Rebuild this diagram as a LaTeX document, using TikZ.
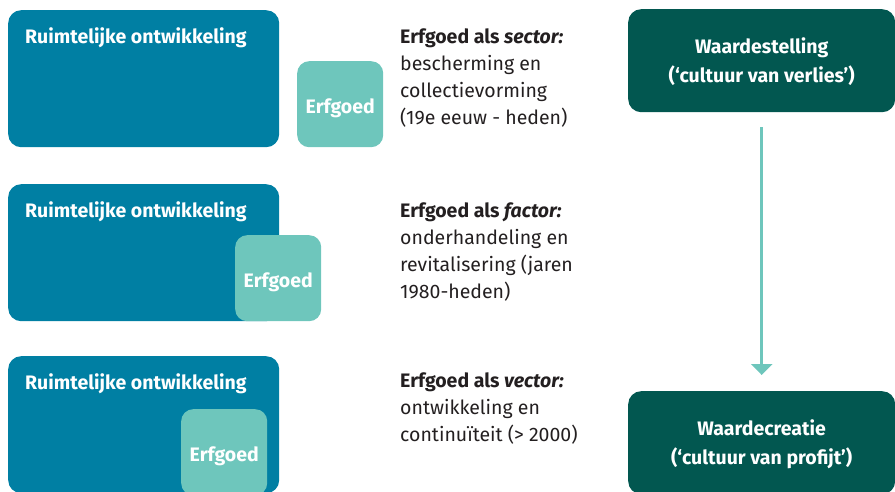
\documentclass[tikz,border=0pt]{standalone}
\usepackage{fontspec}
\setmainfont{Fira Sans}
\usepackage{xcolor}
\usetikzlibrary{arrows.meta,positioning}

\definecolor{roblauw}{RGB}{0,127,163}
\definecolor{erfturkoois}{RGB}{110,198,188}
\definecolor{waardegroen}{RGB}{2,87,80}
\definecolor{tekstgrijs}{RGB}{35,31,32}

\begin{document}
\begin{tikzpicture}[
    x=1pt, y=-1pt,
    font=\fontsize{19.5}{27}\selectfont,
    ruimte/.style={
        % The shape:
        rectangle,
        rounded corners=13pt,
        minimum width=271pt,
        minimum height=137pt,
        anchor=north west,
        inner sep=0pt,
        % The fill
        fill=roblauw,
        % The label in the corner
        label={[anchor=north west,inner sep=0pt,xshift=17pt,yshift=-17pt,
                text=white,font=\bfseries\fontsize{19.5}{27}\selectfont]north west:Ruimtelijke ontwikkeling}},
    erfgoed/.style={
        % The shape:
        rectangle,
        rounded corners=12pt,
        minimum size=86pt,
        anchor=north west,
        text height=21pt,
        text depth=2pt,
        % The fill
        fill=erfturkoois,
        % The fonts
        text=white,
        font=\bfseries\fontsize{19.5}{27}\selectfont},
    waarde/.style={
        % The shape:
        rectangle,
        rounded corners=13pt,
        minimum width=267pt,
        minimum height=103pt,
        anchor=north west,
        % The fill
        fill=waardegroen,
        % The fonts
        text=white,
        align=center,
        font=\bfseries\fontsize{19.5}{29}\selectfont},
    uitleg/.style={
        anchor=north west,
        align=left,
        inner sep=0pt,
        text=tekstgrijs}
  ]
  \clip (0,0) rectangle (895,492);

  % drie rijen: ruimtelijke ontwikkeling met erfgoed
  \node (ro1) [ruimte] at (8,10) {};
  \node (erf1) [erfgoed] at (297,61) {Erfgoed};
  \node (ro2) [ruimte] at (8,184) {};
  \node (erf2) [erfgoed] at (235,235) {Erfgoed};
  \node (ro3) [ruimte] at (8,356) {};
  \node (erf3) [erfgoed] at (181,409) {Erfgoed};

  % toelichting
  \node (sector) [uitleg] at (400,28.5)
    {\textbf{Erfgoed als \textit{sector:}}\\bescherming en\\collectievorming\\(19e eeuw - heden)};
  \node (factor) [uitleg] at (400,202.5)
    {\textbf{Erfgoed als \textit{factor:}}\\onderhandeling en\\revitalisering (jaren\\1980-heden)};
  \node (vector) [uitleg] at (400,372.5)
    {\textbf{Erfgoed als \textit{vector:}}\\ontwikkeling en\\continuïteit (> 2000)};

  % waardestelling -> waardecreatie
  \node (stelling) [waarde] at (628,9) {\rule{0pt}{18pt}Waardestelling\\(‘cultuur van verlies’)};
  \node (creatie) [waarde] at (628,391) {\rule{0pt}{18pt}Waardecreatie\\(‘cultuur van profijt’)};
  \draw [erfturkoois, line width=3pt, shorten <=15pt, shorten >=16pt,
         -{Triangle[width=21pt,length=11pt]}] (stelling) -- (creatie);
\end{tikzpicture}
\end{document}
